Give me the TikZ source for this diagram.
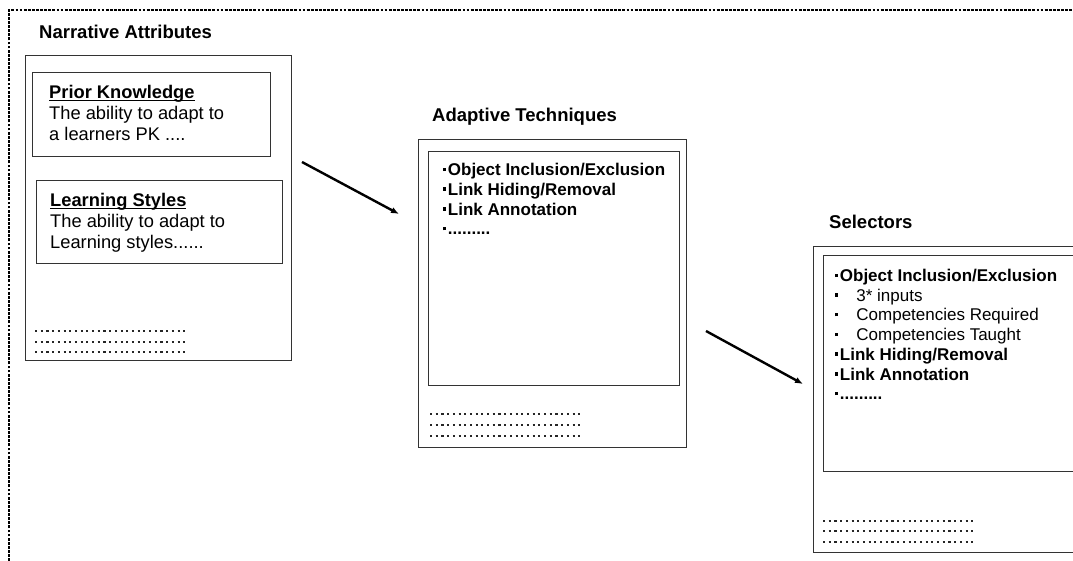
\documentclass[tikz,border=0pt]{standalone}
\usepackage{fontspec}
\setmainfont{Liberation Sans}
\usetikzlibrary{arrows.meta}

\newcommand{\sqbul}{\rule[4.5pt]{3.2pt}{3.4pt}\hspace{1.5pt}}
\newcommand{\subbul}{\rule[4.5pt]{3.2pt}{3.4pt}\hspace{18pt}}
\newcommand{\ulhead}[1]{\textbf{\underline{\smash{#1}}}\vphantom{P}}

\begin{document}
\begin{tikzpicture}[x=1pt,y=-1pt]
	\tikzset{every node/.style = {font=\fontsize{17}{19.7}\selectfont, inner sep=0pt}}
	\tikzset{frame/.style = {draw=black!80, line width=1.3pt, anchor=north west}}
	\tikzset{blocktext/.style = {anchor=north west, align=left}}
	\tikzset{attrtext/.style = {blocktext, font=\fontsize{18.3}{20.8}\selectfont}}
	\tikzset{heading/.style = {anchor=base west, font=\fontsize{18.5}{20}\selectfont\bfseries}}
	\tikzset{filler/.style = {line width=2.1pt, dash pattern=on 2.1pt off 3.6pt, black!85}}
	\tikzset{flow/.style = {-{Latex[length=8pt, width=6.5pt]}, line width=2.4pt}}

\useasboundingbox (0,0) rectangle (1073,561);
\clip (0,0) rectangle (1073,561);

%% Outer dashed frame
\draw[line width=2.4pt, dash pattern=on 2.8pt off 1.3pt] (9,561) -- (9,10) -- (1080,10);

%% Narrative attributes
\draw (39,39) node[heading, name = narrtitle]{Narrative Attributes};
\draw (25,55) node[frame, name = narr, minimum width=266, minimum height=305]{};
\draw (32,72) node[frame, name = prior, minimum width=238, minimum height=84]{};
\draw (49,86) node[attrtext, name = priortext]{\ulhead{Prior Knowledge}\\The ability to adapt to\\a learners PK ....};
\draw (36,180) node[frame, name = styles, minimum width=246, minimum height=83]{};
\draw (50,194) node[attrtext, name = stylestext]{\ulhead{Learning Styles}\\The ability to adapt to\\Learning styles......};
\foreach \y in {331,342,352}
	\draw[filler] (35,\y) -- (187,\y);

%% Adaptive techniques
\draw (432,122) node[heading, name = adapttitle]{Adaptive Techniques};
\draw (418,139) node[frame, name = adapt, minimum width=268, minimum height=308]{};
\draw (428,151) node[frame, name = adaptin, minimum width=251, minimum height=234]{};
\draw (443,163) node[blocktext, name = adapttext, font=\fontsize{17}{19.8}\selectfont\bfseries]{%
	\sqbul Object Inclusion/Exclusion\\
	\sqbul Link Hiding/Removal\\
	\sqbul Link Annotation\\
	\sqbul .........};
\foreach \y in {414,425,436}
	\draw[filler] (430,\y) -- (580,\y);

%% Selectors
\draw (829,229) node[heading, name = seltitle]{Selectors};
\draw (813,246) node[frame, name = sel, minimum width=300, minimum height=306]{};
\draw (823,255) node[frame, name = selin, minimum width=280, minimum height=216]{};
\draw (835,269) node[blocktext, name = seltext]{%
	\textbf{\sqbul Object Inclusion/Exclusion}\\
	\subbul 3* inputs\\
	\subbul Competencies Required\\
	\subbul Competencies Taught\\
	\textbf{\sqbul Link Hiding/Removal}\\
	\textbf{\sqbul Link Annotation}\\
	\textbf{\sqbul .........}};
\foreach \y in {521,531,542}
	\draw[filler] (823,\y) -- (975,\y);

%% Arrows
\coordinate (flowAs) at (302,162);
\coordinate (flowAe) at (399,214);
\coordinate (flowBs) at (706,331);
\coordinate (flowBe) at (803,384);
\draw[flow] (flowAs) -- (flowAe);
\draw[flow] (flowBs) -- (flowBe);
\end{tikzpicture}
\end{document}
